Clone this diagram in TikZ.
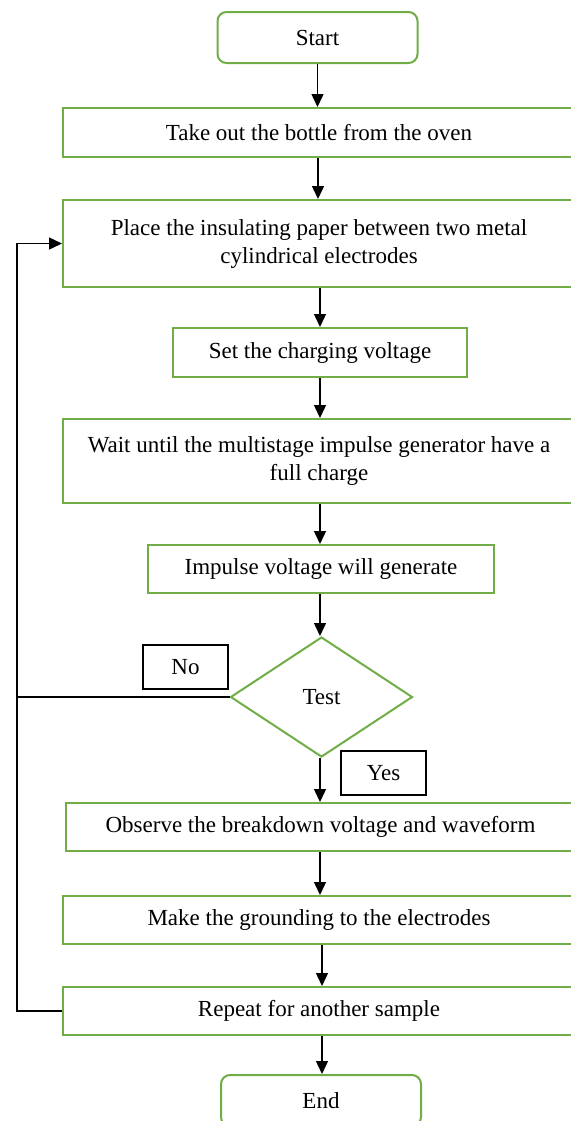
\documentclass[tikz,border=0pt]{standalone}
\usepackage{fontspec}
\setmainfont{Liberation Serif}
\usepackage{tikz}
\usepackage{xcolor}
\usetikzlibrary{arrows.meta,positioning,calc,shapes.geometric}
\definecolor{leafgreen}{RGB}{112,173,71}
\tikzset{
  stepbox/.style={draw=leafgreen, line width=1pt, minimum width=256pt, minimum height=24.5pt, inner sep=0pt, align=center},
  term/.style={stepbox, rounded corners=4.5pt, minimum width=100pt, minimum height=25.5pt},
  decision/.style={draw=leafgreen, line width=1pt, diamond, aspect=1.5, minimum width=91pt, minimum height=60pt, inner sep=0pt},
  tag/.style={draw, line width=0.6pt, minimum width=42.5pt, minimum height=22pt, inner sep=0pt},
  flow/.style={draw, line width=0.7pt, -{Triangle[length=6.5pt,width=6pt]}},
  loopline/.style={draw, line width=0.7pt}
}

\begin{document}
\begin{tikzpicture}[x=0.5pt, y=-0.5pt, font=\fontsize{11.5}{14}\selectfont]
  \useasboundingbox (0,0) rectangle (571,1121);
  \clip (0,0) rectangle (571,1121);

  % steps
  \node[term] (start) at (317.5,37.5) {Start};
  \node[stepbox] (take) at (319,132.5) {Take out the bottle from the oven};
  \node[stepbox, minimum height=43.5pt] (place) at (319,243.5) {Place the insulating paper between two metal\\cylindrical electrodes};
  \node[stepbox, minimum width=147pt] (setv) at (320,352.5) {Set the charging voltage};
  \node[stepbox, minimum height=42pt] (wait) at (319,461) {Wait until the multistage impulse generator have a\\full charge};
  \node[stepbox, minimum width=173pt, minimum height=24pt] (impulse) at (321,569) {Impulse voltage will generate};
  \node[decision] (test) at (321.5,697) {Test};
  \node[tag] (no) at (185.5,667) {No};
  \node[tag] (yes) at (383.5,773) {Yes};
  \node[stepbox, minimum width=254.5pt, minimum height=24pt] (observe) at (320.5,827) {Observe the breakdown voltage and waveform};
  \node[stepbox, minimum height=24pt] (ground) at (319,920) {Make the grounding to the electrodes};
  \node[stepbox, minimum height=24pt] (repeat) at (319,1011) {Repeat for another sample};
  \node[term] (end) at (321,1100.5) {End};

  % arrows down the column
  \draw[flow] (start.south) -- (start.south |- take.north);
  \draw[flow] (take.south -| 318,0) -- (place.north -| 318,0);
  \draw[flow] (place.south -| 320,0) -- (setv.north -| 320,0);
  \draw[flow] (setv.south -| 320,0) -- (wait.north -| 320,0);
  \draw[flow] (wait.south -| 320,0) -- (impulse.north -| 320,0);
  \draw[flow] (impulse.south -| 320,0) -- (test.north -| 320,0);
  \draw[flow] (test.south -| 320,0) -- (observe.north -| 320,0);
  \draw[flow] (observe.south -| 320,0) -- (ground.north -| 320,0);
  \draw[flow] (ground.south -| 322,0) -- (repeat.north -| 322,0);
  \draw[flow] (repeat.south -| 322,0) -- (end.north -| 322,0);

  % loop back
  \coordinate (back) at (17,1011);
  \draw[loopline] (test.west) -- (back |- test.west);
  \draw[flow] (repeat.west) -- (back) |- (place.west);
\end{tikzpicture}
\end{document}
